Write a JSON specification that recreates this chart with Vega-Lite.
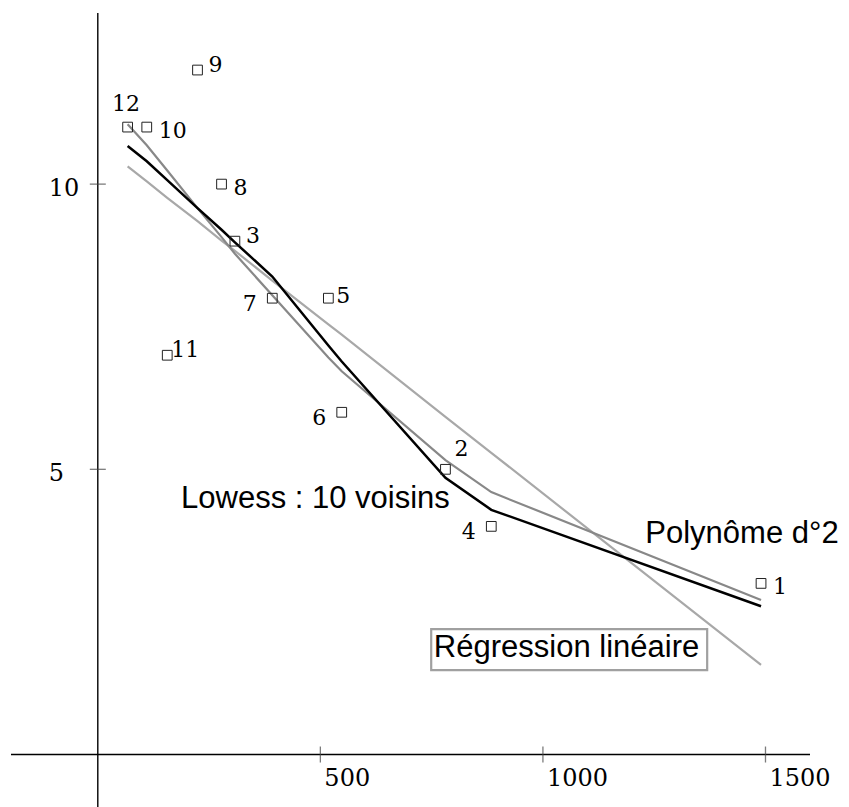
{
  "$schema": "https://vega.github.io/schema/vega-lite/v6.json",
  "width": 799,
  "height": 794,
  "padding": {"left": 11, "top": 13, "right": 39, "bottom": 0},
  "autosize": {"type": "none"},
  "background": "white",
  "config": {"view": {"stroke": null}},
  "datasets": {
    "points": [
      {"id": "1", "x": 1490, "y": 3, "pos": "right"},
      {"id": "2", "x": 781, "y": 5, "pos": "aboveright"},
      {"id": "3", "x": 308, "y": 9, "pos": "upright"},
      {"id": "4", "x": 884, "y": 4, "pos": "left"},
      {"id": "5", "x": 518, "y": 8, "pos": "rightclose"},
      {"id": "6", "x": 548, "y": 6, "pos": "left"},
      {"id": "7", "x": 392, "y": 8, "pos": "left"},
      {"id": "8", "x": 278, "y": 10, "pos": "right"},
      {"id": "9", "x": 224, "y": 12, "pos": "upright"},
      {"id": "10", "x": 110, "y": 11, "pos": "right"},
      {"id": "11", "x": 156, "y": 7, "pos": "upclose"},
      {"id": "12", "x": 67, "y": 11, "pos": "above"}
    ],
    "fits": [
      {"m": "lin", "x": 67, "y": 10.31}, {"m": "lin", "x": 110, "y": 10.05}, {"m": "lin", "x": 156, "y": 9.76},
      {"m": "lin", "x": 224, "y": 9.35}, {"m": "lin", "x": 278, "y": 9.01}, {"m": "lin", "x": 308, "y": 8.83},
      {"m": "lin", "x": 392, "y": 8.31}, {"m": "lin", "x": 518, "y": 7.54}, {"m": "lin", "x": 548, "y": 7.36},
      {"m": "lin", "x": 781, "y": 5.92}, {"m": "lin", "x": 884, "y": 5.29}, {"m": "lin", "x": 1490, "y": 1.57},
      {"m": "poly", "x": 67, "y": 11.05}, {"m": "poly", "x": 110, "y": 10.68}, {"m": "poly", "x": 156, "y": 10.24},
      {"m": "poly", "x": 224, "y": 9.58}, {"m": "poly", "x": 278, "y": 9.07}, {"m": "poly", "x": 308, "y": 8.78},
      {"m": "poly", "x": 392, "y": 8.05}, {"m": "poly", "x": 518, "y": 6.96}, {"m": "poly", "x": 548, "y": 6.72},
      {"m": "poly", "x": 781, "y": 5.16}, {"m": "poly", "x": 884, "y": 4.6}, {"m": "poly", "x": 1490, "y": 2.71},
      {"m": "lowess", "x": 67, "y": 10.67}, {"m": "lowess", "x": 110, "y": 10.4}, {"m": "lowess", "x": 156, "y": 10.07},
      {"m": "lowess", "x": 224, "y": 9.58}, {"m": "lowess", "x": 278, "y": 9.2}, {"m": "lowess", "x": 308, "y": 8.98},
      {"m": "lowess", "x": 392, "y": 8.38}, {"m": "lowess", "x": 518, "y": 7.17}, {"m": "lowess", "x": 548, "y": 6.89},
      {"m": "lowess", "x": 781, "y": 4.85}, {"m": "lowess", "x": 884, "y": 4.29}, {"m": "lowess", "x": 1490, "y": 2.6}
    ],
    "xticks": [{"v": 500}, {"v": 1000}, {"v": 1500}],
    "yticks": [{"v": 5}, {"v": 10}],
    "notes": [
      {"label": "Lowess : 10 voisins", "x": 187, "y": 4.32},
      {"label": "Polynôme d°2", "x": 1230, "y": 3.71},
      {"label": "Régression linéaire", "x": 755, "y": 1.71}
    ],
    "box": [{"x1": 749, "x2": 1369, "y1": 2.2, "y2": 1.48}]
  },
  "layer": [
    {
      "data": {"values": [{}]},
      "mark": {"type": "rule", "color": "black", "strokeWidth": 1.4},
      "encoding": {"y": {"datum": 0, "type": "quantitative", "scale": {"domain": [-0.92, 13], "nice": false, "zero": false}, "axis": null}}
    },
    {
      "data": {"values": [{}]},
      "mark": {"type": "rule", "color": "black", "strokeWidth": 1.4},
      "encoding": {"x": {"datum": 0, "type": "quantitative", "scale": {"domain": [-195, 1600], "nice": false, "zero": false}, "axis": null}}
    },
    {
      "data": {"name": "xticks"},
      "mark": {"type": "tick", "orient": "vertical", "size": 16, "thickness": 1.3, "color": "#444"},
      "encoding": {
        "x": {"field": "v", "type": "quantitative", "scale": {"domain": [-195, 1600], "nice": false, "zero": false}, "axis": null},
        "y": {"datum": 0, "type": "quantitative", "scale": {"domain": [-0.92, 13], "nice": false, "zero": false}, "axis": null}
      }
    },
    {
      "data": {"name": "yticks"},
      "mark": {"type": "tick", "orient": "horizontal", "size": 16, "thickness": 1.3, "color": "#444"},
      "encoding": {
        "y": {"field": "v", "type": "quantitative", "scale": {"domain": [-0.92, 13], "nice": false, "zero": false}, "axis": null},
        "x": {"datum": 0, "type": "quantitative", "scale": {"domain": [-195, 1600], "nice": false, "zero": false}, "axis": null}
      }
    },
    {
      "data": {"name": "xticks"},
      "mark": {"type": "text", "font": "DejaVu Serif", "fontSize": 24, "align": "left", "baseline": "alphabetic", "dx": 4, "dy": 31, "color": "black"},
      "encoding": {
        "x": {"field": "v", "type": "quantitative", "scale": {"domain": [-195, 1600], "nice": false, "zero": false}, "axis": null},
        "y": {"datum": 0, "type": "quantitative", "scale": {"domain": [-0.92, 13], "nice": false, "zero": false}, "axis": null},
        "text": {"field": "v", "type": "quantitative", "format": "d"}
      }
    },
    {
      "data": {"name": "yticks"},
      "mark": {"type": "text", "font": "DejaVu Serif", "fontSize": 24, "align": "left", "baseline": "alphabetic", "dx": -49, "dy": 11.5, "color": "black"},
      "encoding": {
        "y": {"field": "v", "type": "quantitative", "scale": {"domain": [-0.92, 13], "nice": false, "zero": false}, "axis": null},
        "x": {"datum": 0, "type": "quantitative", "scale": {"domain": [-195, 1600], "nice": false, "zero": false}, "axis": null},
        "text": {"field": "v", "type": "quantitative", "format": "d"}
      }
    },
    {
      "data": {"name": "fits"},
      "transform": [{"filter": "datum.m === 'lin'"}],
      "mark": {"type": "line", "color": "#a8a8a8", "strokeWidth": 2.2},
      "encoding": {
        "x": {"field": "x", "type": "quantitative", "scale": {"domain": [-195, 1600], "nice": false, "zero": false}, "axis": null},
        "y": {"field": "y", "type": "quantitative", "scale": {"domain": [-0.92, 13], "nice": false, "zero": false}, "axis": null},
        "order": {"field": "x"}
      }
    },
    {
      "data": {"name": "fits"},
      "transform": [{"filter": "datum.m === 'poly'"}],
      "mark": {"type": "line", "color": "#888888", "strokeWidth": 2.2},
      "encoding": {
        "x": {"field": "x", "type": "quantitative", "scale": {"domain": [-195, 1600], "nice": false, "zero": false}, "axis": null},
        "y": {"field": "y", "type": "quantitative", "scale": {"domain": [-0.92, 13], "nice": false, "zero": false}, "axis": null},
        "order": {"field": "x"}
      }
    },
    {
      "data": {"name": "fits"},
      "transform": [{"filter": "datum.m === 'lowess'"}],
      "mark": {"type": "line", "color": "black", "strokeWidth": 2.5},
      "encoding": {
        "x": {"field": "x", "type": "quantitative", "scale": {"domain": [-195, 1600], "nice": false, "zero": false}, "axis": null},
        "y": {"field": "y", "type": "quantitative", "scale": {"domain": [-0.92, 13], "nice": false, "zero": false}, "axis": null},
        "order": {"field": "x"}
      }
    },
    {
      "data": {"name": "points"},
      "mark": {"type": "point", "shape": "square", "size": 95, "filled": false, "stroke": "#222", "strokeWidth": 1, "opacity": 1},
      "encoding": {
        "x": {"field": "x", "type": "quantitative", "scale": {"domain": [-195, 1600], "nice": false, "zero": false}, "axis": null},
        "y": {"field": "y", "type": "quantitative", "scale": {"domain": [-0.92, 13], "nice": false, "zero": false}, "axis": null}
      }
    },
    {
      "data": {"name": "points"},
      "transform": [{"filter": "datum.pos === 'right'"}],
      "mark": {"type": "text", "font": "DejaVu Serif", "fontSize": 22, "align": "left", "baseline": "alphabetic", "dx": 12, "dy": 11, "color": "black"},
      "encoding": {
        "x": {"field": "x", "type": "quantitative", "scale": {"domain": [-195, 1600], "nice": false, "zero": false}, "axis": null},
        "y": {"field": "y", "type": "quantitative", "scale": {"domain": [-0.92, 13], "nice": false, "zero": false}, "axis": null},
        "text": {"field": "id"}
      }
    },
    {
      "data": {"name": "points"},
      "transform": [{"filter": "datum.pos === 'rightclose'"}],
      "mark": {"type": "text", "font": "DejaVu Serif", "fontSize": 22, "align": "left", "baseline": "alphabetic", "dx": 8, "dy": 5, "color": "black"},
      "encoding": {
        "x": {"field": "x", "type": "quantitative", "scale": {"domain": [-195, 1600], "nice": false, "zero": false}, "axis": null},
        "y": {"field": "y", "type": "quantitative", "scale": {"domain": [-0.92, 13], "nice": false, "zero": false}, "axis": null},
        "text": {"field": "id"}
      }
    },
    {
      "data": {"name": "points"},
      "transform": [{"filter": "datum.pos === 'upright'"}],
      "mark": {"type": "text", "font": "DejaVu Serif", "fontSize": 22, "align": "left", "baseline": "alphabetic", "dx": 11, "dy": 2, "color": "black"},
      "encoding": {
        "x": {"field": "x", "type": "quantitative", "scale": {"domain": [-195, 1600], "nice": false, "zero": false}, "axis": null},
        "y": {"field": "y", "type": "quantitative", "scale": {"domain": [-0.92, 13], "nice": false, "zero": false}, "axis": null},
        "text": {"field": "id"}
      }
    },
    {
      "data": {"name": "points"},
      "transform": [{"filter": "datum.pos === 'upclose'"}],
      "mark": {"type": "text", "font": "DejaVu Serif", "fontSize": 22, "align": "left", "baseline": "alphabetic", "dx": 4, "dy": 2, "color": "black"},
      "encoding": {
        "x": {"field": "x", "type": "quantitative", "scale": {"domain": [-195, 1600], "nice": false, "zero": false}, "axis": null},
        "y": {"field": "y", "type": "quantitative", "scale": {"domain": [-0.92, 13], "nice": false, "zero": false}, "axis": null},
        "text": {"field": "id"}
      }
    },
    {
      "data": {"name": "points"},
      "transform": [{"filter": "datum.pos === 'left'"}],
      "mark": {"type": "text", "font": "DejaVu Serif", "fontSize": 22, "align": "right", "baseline": "alphabetic", "dx": -15.5, "dy": 12.5, "color": "black"},
      "encoding": {
        "x": {"field": "x", "type": "quantitative", "scale": {"domain": [-195, 1600], "nice": false, "zero": false}, "axis": null},
        "y": {"field": "y", "type": "quantitative", "scale": {"domain": [-0.92, 13], "nice": false, "zero": false}, "axis": null},
        "text": {"field": "id"}
      }
    },
    {
      "data": {"name": "points"},
      "transform": [{"filter": "datum.pos === 'above'"}],
      "mark": {"type": "text", "font": "DejaVu Serif", "fontSize": 22, "align": "center", "baseline": "alphabetic", "dx": -1.5, "dy": -16, "color": "black"},
      "encoding": {
        "x": {"field": "x", "type": "quantitative", "scale": {"domain": [-195, 1600], "nice": false, "zero": false}, "axis": null},
        "y": {"field": "y", "type": "quantitative", "scale": {"domain": [-0.92, 13], "nice": false, "zero": false}, "axis": null},
        "text": {"field": "id"}
      }
    },
    {
      "data": {"name": "points"},
      "transform": [{"filter": "datum.pos === 'aboveright'"}],
      "mark": {"type": "text", "font": "DejaVu Serif", "fontSize": 22, "align": "center", "baseline": "alphabetic", "dx": 16, "dy": -13, "color": "black"},
      "encoding": {
        "x": {"field": "x", "type": "quantitative", "scale": {"domain": [-195, 1600], "nice": false, "zero": false}, "axis": null},
        "y": {"field": "y", "type": "quantitative", "scale": {"domain": [-0.92, 13], "nice": false, "zero": false}, "axis": null},
        "text": {"field": "id"}
      }
    },
    {
      "data": {"name": "box"},
      "mark": {"type": "rect", "filled": false, "stroke": "#a0a0a0", "strokeWidth": 2.2},
      "encoding": {
        "x": {"field": "x1", "type": "quantitative", "scale": {"domain": [-195, 1600], "nice": false, "zero": false}, "axis": null},
        "x2": {"field": "x2"},
        "y": {"field": "y1", "type": "quantitative", "scale": {"domain": [-0.92, 13], "nice": false, "zero": false}, "axis": null},
        "y2": {"field": "y2"}
      }
    },
    {
      "data": {"name": "notes"},
      "mark": {"type": "text", "font": "Liberation Sans", "fontSize": 31, "align": "left", "baseline": "alphabetic", "color": "black"},
      "encoding": {
        "x": {"field": "x", "type": "quantitative", "scale": {"domain": [-195, 1600], "nice": false, "zero": false}, "axis": null},
        "y": {"field": "y", "type": "quantitative", "scale": {"domain": [-0.92, 13], "nice": false, "zero": false}, "axis": null},
        "text": {"field": "label"}
      }
    }
  ]
}
